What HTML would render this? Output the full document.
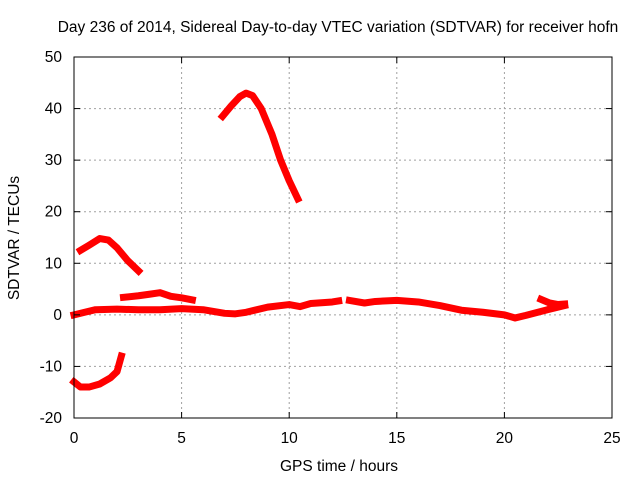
<!DOCTYPE html>
<html><head><meta charset="utf-8"><style>
body{margin:0;background:#fff}
svg{display:block;font-family:"Liberation Sans",sans-serif;font-size:15.5px}
</style></head><body>
<svg id="c" width="640" height="480">
<text x="338" y="32" text-anchor="middle">Day 236 of 2014, Sidereal Day-to-day VTEC variation (SDTVAR) for receiver hofn</text>
<text x="339" y="471" text-anchor="middle">GPS time / hours</text>
<text transform="translate(19,238) rotate(-90)" text-anchor="middle">SDTVAR / TECUs</text>
<g id="grid"></g><g id="series"></g>
<rect x="74" y="57" width="538" height="361" fill="none" stroke="#000" stroke-width="1"/>
<g id="ticks"></g>
</svg>
<script>
const xTicks=[0,5,10,15,20,25];
const yTicks=[-20,-10,0,10,20,30,40,50];
const mainBandX=[0,0.5,1,2,3,4,5,6,7,7.5,8,9,10,10.5,11,12,12.3];
const mainBandY=[0,0.5,1,1.1,1,1,1.2,1,0.3,0.2,0.5,1.5,2,1.6,2.2,2.5,2.7];
const lateBandX=[12.8,13.5,14,15,16,17,18,19,20,20.5,21,22,22.8];
const lateBandY=[2.8,2.3,2.6,2.8,2.5,1.8,0.9,0.5,0,-0.6,-0.1,1,1.8];
const tailX=[21.7,22.1,22.5,22.8];
const tailY=[3,2.3,2,2.1];
const upperBandX=[2.3,3,3.5,4,4.5,5,5.5];
const upperBandY=[3.4,3.7,4,4.3,3.6,3.3,2.9];
const arcX=[0.3,0.7,1.2,1.6,2,2.5,3];
const arcY=[12.5,13.5,14.8,14.5,13,10.5,8.5];
const lowX=[0,0.3,0.7,1.2,1.7,2,2.2];
const lowY=[-13,-14,-14,-13.4,-12.2,-11,-8];
const bigX=[6.9,7.3,7.7,8,8.3,8.7,9.2,9.6,10,10.4];
const bigY=[38.5,40.5,42.3,43,42.5,40,35,30,26,22.5];
const X=v=>74+v*538/25, Y=v=>418-(v+20)*361/70;
const NS="http://www.w3.org/2000/svg";
const grid=document.getElementById('grid'),tk=document.getElementById('ticks'),sr=document.getElementById('series');
function mk(t,a,p){const e=document.createElementNS(NS,t);for(const k in a)e.setAttribute(k,a[k]);p.appendChild(e);return e;}
xTicks.forEach(v=>{
 if(v>0&&v<25){const g=mk('line',{x1:X(v),x2:X(v),y1:57,y2:418,stroke:'#a0a0a0','stroke-dasharray':'2,3'},grid);
 
 }
 mk('line',{x1:X(v),x2:X(v),y1:418,y2:412,stroke:'#000'},tk);
 mk('line',{x1:X(v),x2:X(v),y1:57,y2:63,stroke:'#000'},tk);
 const t=mk('text',{x:X(v),y:443,'text-anchor':'middle'},tk);t.textContent=v;
 
 
});
yTicks.forEach(v=>{
 if(v>-20&&v<50){const g=mk('line',{x1:74,x2:612,y1:Y(v),y2:Y(v),stroke:'#a0a0a0','stroke-dasharray':'2,3'},grid);
 
 }
 mk('line',{x1:74,x2:80,y1:Y(v),y2:Y(v),stroke:'#000'},tk);
 mk('line',{x1:612,x2:606,y1:Y(v),y2:Y(v),stroke:'#000'},tk);
 const t=mk('text',{x:62,y:Y(v)+5,'text-anchor':'end'},tk);t.textContent=v;
 
 
});
function series(xs,ys,name){
 const p=mk('polyline',{points:xs.map((x,i)=>X(x)+','+Y(ys[i])).join(' '),fill:'none',stroke:'#f00','stroke-width':7,'stroke-linejoin':'round','stroke-linecap':'square'},sr);
 
 
}
series(mainBandX,mainBandY,'series-main-band');
series(lateBandX,lateBandY,'series-late-band');
series(tailX,tailY,'series-tail');
series(upperBandX,upperBandY,'series-upper-band');
series(arcX,arcY,'series-early-arc');
series(lowX,lowY,'series-low-arc');
series(bigX,bigY,'series-peak-arc');
</script>
</body></html>
